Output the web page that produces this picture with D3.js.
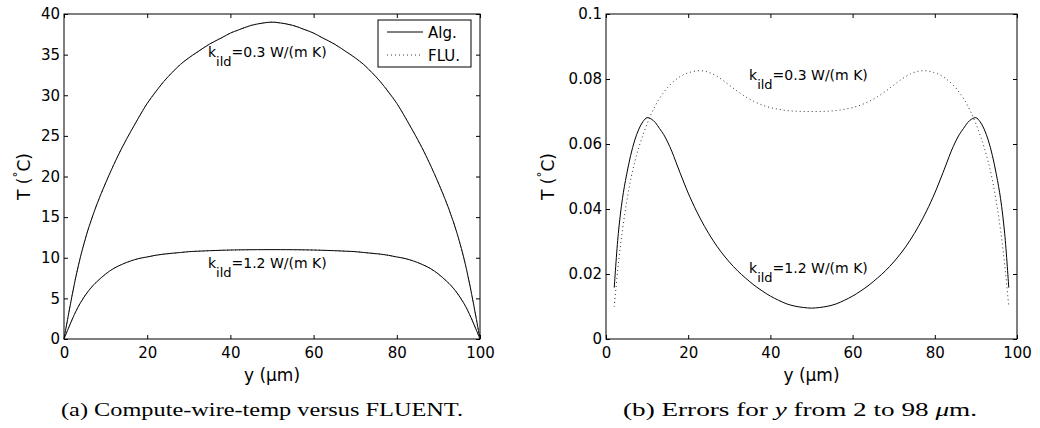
<!DOCTYPE html>
<html>
<head>
<meta charset="utf-8">
<script src="https://cdn.jsdelivr.net/npm/d3@7/dist/d3.min.js"></script>
<style>
body { margin:0; background:#fff; }
svg text { font-family:"DejaVu Sans", sans-serif; fill:#000; }
.caption { font-family:"Liberation Serif", serif; }
</style>
</head>
<body>
<svg id="chart" width="1040" height="428"></svg>
<script>

// (a) temperature profiles, y in um, T in degC
var leftY = [0,1,2,3,4,5,6,7,8,10,12,14,16,18,20,22,24,26,28,30,32,35,38,40,42,45,48,
    50,52,55,58,60,62,65,68,70,72,74,76,78,80,82,84,86,88,90,92,93,94,95,96,97,98,99,100];

var alg03 = [0,2.8,5.5,8.0,10.2,12.1,13.8,15.3,16.7,19.2,21.5,23.6,25.5,27.3,29.0,30.4,31.7,32.8,33.8,34.6,35.3,36.3,37.1,37.65,38.05,38.6,38.9,
    39.0,38.9,38.6,38.05,37.65,37.1,36.3,35.3,34.6,33.8,32.8,31.7,30.4,29.0,27.3,25.5,23.6,21.5,19.2,16.7,15.3,13.8,12.1,10.2,8.0,5.5,2.8,0];
var flu03 = [0,2.8,5.5,8.0,10.2,12.1,13.8,15.3,16.7,19.2,21.5,23.6,25.5,27.3,29.0,30.4,31.7,32.8,33.8,34.6,35.3,36.3,37.1,37.65,38.05,38.6,38.9,
    39.0,38.9,38.6,38.05,37.65,37.1,36.3,35.3,34.6,33.8,32.8,31.7,30.4,29.0,27.3,25.5,23.6,21.5,19.2,16.7,15.3,13.8,12.1,10.2,8.0,5.5,2.8,0];
var alg12 = [0,1.25,2.45,3.55,4.5,5.3,6.0,6.6,7.1,8.0,8.7,9.2,9.6,9.9,10.1,10.3,10.45,10.55,10.65,10.75,10.8,10.87,10.92,10.95,10.97,10.99,11.0,
    11.0,11.0,10.99,10.97,10.95,10.92,10.87,10.8,10.75,10.65,10.55,10.45,10.3,10.1,9.9,9.6,9.2,8.7,8.0,7.1,6.6,6.0,5.3,4.5,3.55,2.45,1.25,0];
var flu12 = [0,1.25,2.45,3.55,4.5,5.3,6.0,6.6,7.1,8.0,8.7,9.2,9.6,9.9,10.1,10.3,10.45,10.55,10.65,10.75,10.8,10.87,10.92,10.95,10.97,10.99,11.0,
    11.0,11.0,10.99,10.97,10.95,10.92,10.87,10.8,10.75,10.65,10.55,10.45,10.3,10.1,9.9,9.6,9.2,8.7,8.0,7.1,6.6,6.0,5.3,4.5,3.55,2.45,1.25,0];

// (b) errors between the two, y from 2 to 98
var rightY = [2,3,4,5,6,7,8,9,10,11,12,13,14,15,16,17,18,19,20,22,24,26,28,30,32,34,36,38,40,42,44,46,48,
    50,52,54,56,58,60,62,64,66,68,70,72,74,76,78,80,81,82,83,84,85,86,87,88,89,90,91,92,93,94,95,96,97,98];
var err12 = [0.0158,0.0325,0.0432,0.0505,0.0565,0.0612,0.0646,0.0669,0.0681,0.0677,0.0666,0.0648,0.0630,0.0606,0.0578,0.0545,0.0512,0.0480,0.0449,
    0.0394,0.0346,0.0304,0.0268,0.0237,0.0210,0.0187,0.0166,0.0148,0.0132,0.0119,0.0108,0.0101,0.0097,
    0.0095,
    0.0097,0.0101,0.0108,0.0119,0.0132,0.0148,0.0166,0.0187,0.0210,0.0237,0.0268,0.0304,0.0346,0.0394,
    0.0449,0.0480,0.0512,0.0545,0.0578,0.0606,0.0630,0.0648,0.0666,0.0677,0.0681,0.0669,0.0646,0.0612,0.0565,0.0505,0.0432,0.0325,0.0158];
var err03 = [0.0099,0.0230,0.0335,0.0420,0.0490,0.0545,0.0590,0.0628,0.0662,0.0692,0.0718,0.0740,0.0758,0.0774,0.0787,0.0798,0.0807,0.0814,0.0819,
    0.0825,0.0824,0.0815,0.0800,0.0781,0.0762,0.0745,0.0731,0.0720,0.0712,0.0707,0.0703,0.0701,0.0700,
    0.0700,
    0.0700,0.0701,0.0703,0.0707,0.0712,0.0720,0.0731,0.0745,0.0762,0.0781,0.0800,0.0815,0.0824,0.0825,
    0.0819,0.0814,0.0807,0.0798,0.0787,0.0774,0.0758,0.0740,0.0718,0.0692,0.0662,0.0628,0.0590,0.0545,0.0490,0.0420,0.0335,0.0230,0.0099];

var xTicks = [0,20,40,60,80,100];
var leftTicks = [0,5,10,15,20,25,30,35,40];
var rightTicks = [0,0.02,0.04,0.06,0.08,0.1];
var rightTickLabels = ["0","0.02","0.04","0.06","0.08","0.1"];

var svg = d3.select("#chart");

function panel(o) {
    var g = svg.append("g").attr("transform", "translate(" + o.left + "," + o.top + ")");
    var x = d3.scaleLinear().domain([0, 100]).range([0, o.width]);
    var y = d3.scaleLinear().domain(o.ydomain).range([o.height, 0]);

    var tk = 4;
    g.append("g").attr("transform", "translate(0," + o.height + ")")
        .call(d3.axisBottom(x).tickValues(xTicks).tickSizeInner(-tk).tickSizeOuter(0).tickPadding(8));
    g.append("g")
        .call(d3.axisTop(x).tickValues(xTicks).tickSizeInner(-tk).tickSizeOuter(0).tickFormat(""));
    g.append("g")
        .call(d3.axisLeft(y).tickValues(o.yticks).tickSizeInner(-tk).tickSizeOuter(0).tickPadding(4)
            .tickFormat(function(d, i) { return o.ylabels[i]; }));
    g.append("g").attr("transform", "translate(" + o.width + ",0)")
        .call(d3.axisRight(y).tickValues(o.yticks).tickSizeInner(-tk).tickSizeOuter(0).tickFormat(""));

    g.selectAll(".domain").remove();
    g.selectAll(".tick line").attr("stroke", "#000");
    g.selectAll(".tick text").attr("font-size", 15).attr("font-family", "DejaVu Sans");

    g.append("rect").attr("width", o.width).attr("height", o.height)
        .attr("fill", "none").attr("stroke", "#000").attr("stroke-width", 1);

    var line = d3.line()
        .x(function(d) { return x(d[0]); })
        .y(function(d) { return y(d[1]); })
        .curve(d3.curveCatmullRom.alpha(0.5));

    o.series.forEach(function(s) {
        var pts = o.xs.map(function(v, i) { return [v, s.values[i]]; });
        var p = g.append("path").datum(pts)
            .attr("d", line)
            .attr("fill", "none")
            .attr("stroke", s.dotted ? "#333" : "#000")
            .attr("stroke-width", 1);
        if (s.dotted) p.attr("stroke-dasharray", "1 3");
    });

    // k_ild labels
    o.notes.forEach(function(n) {
        var t = g.append("text")
            .attr("x", x(n.x)).attr("y", y(n.y))
            .attr("font-size", 14);
        t.append("tspan").text("k");
        t.append("tspan").attr("dy", 9).attr("font-size", 13).text("ild");
        t.append("tspan").attr("dy", -9).text(n.text);
    });

    // axis labels
    g.append("text")
        .attr("x", o.width / 2).attr("y", o.height + 42)
        .attr("text-anchor", "middle").attr("font-size", 17)
        .text("y (\u03bcm)");

    var yl = g.append("text")
        .attr("transform", "translate(" + o.ylabelX + "," + (o.height / 2) + ") rotate(-90)")
        .attr("text-anchor", "middle").attr("font-size", 17);
    yl.append("tspan").text("T (");
    yl.append("tspan").attr("dy", -8).attr("font-size", 12).text("\u00b0");
    yl.append("tspan").attr("dy", 8).text("C)");

    return { g: g, x: x, y: y };
}

var a = panel({
    left: 64, top: 14, width: 416, height: 325,
    ydomain: [0, 40], yticks: leftTicks, ylabels: leftTicks.map(String),
    xs: leftY,
    series: [
        { values: alg03 }, { values: alg12 },
        { values: flu03, dotted: true }, { values: flu12, dotted: true }
    ],
    notes: [
        { x: 34.6, y: 34.7, text: "=0.3 W/(m K)" },
        { x: 34.6, y: 8.74, text: "=1.2 W/(m K)" }
    ],
    ylabelX: -34
});

var b = panel({
    left: 606, top: 14, width: 411, height: 325,
    ydomain: [0, 0.1], yticks: rightTicks, ylabels: rightTickLabels,
    xs: rightY,
    series: [
        { values: err12 },
        { values: err03, dotted: true }
    ],
    notes: [
        { x: 34.8, y: 0.0797, text: "=0.3 W/(m K)" },
        { x: 34.8, y: 0.0203, text: "=1.2 W/(m K)" }
    ],
    ylabelX: -52
});

// legend in (a)
var lg = a.g.append("g").attr("transform", "translate(314,6)");
lg.append("rect").attr("width", 93).attr("height", 47)
    .attr("fill", "#fff").attr("stroke", "#000").attr("stroke-width", 1);
var legendItems = [{ name: "Alg.", dotted: false }, { name: "FLU.", dotted: true }];
legendItems.forEach(function(d, i) {
    var yy = 12 + i * 23;
    var l = lg.append("line").attr("x1", 9).attr("x2", 45).attr("y1", yy).attr("y2", yy)
        .attr("stroke", d.dotted ? "#333" : "#000").attr("stroke-width", 1);
    if (d.dotted) l.attr("stroke-dasharray", "1 3");
    lg.append("text").attr("x", 50).attr("y", yy + 6).attr("font-size", 15).text(d.name);
});

// captions
svg.append("text").attr("class", "caption")
    .attr("x", 61).attr("y", 416).attr("font-size", 18.5)
    .attr("textLength", 402).attr("lengthAdjust", "spacingAndGlyphs")
    .text("(a) Compute-wire-temp versus FLUENT.");

var cb = svg.append("text").attr("class", "caption")
    .attr("x", 623).attr("y", 416).attr("font-size", 18.5)
    .attr("textLength", 354).attr("lengthAdjust", "spacingAndGlyphs");
cb.append("tspan").text("(b) Errors for ");
cb.append("tspan").attr("font-style", "italic").text("y");
cb.append("tspan").text(" from 2 to 98 ");
cb.append("tspan").attr("font-style", "italic").text("\u03bc");
cb.append("tspan").text("m.");

</script>
</body>
</html>
